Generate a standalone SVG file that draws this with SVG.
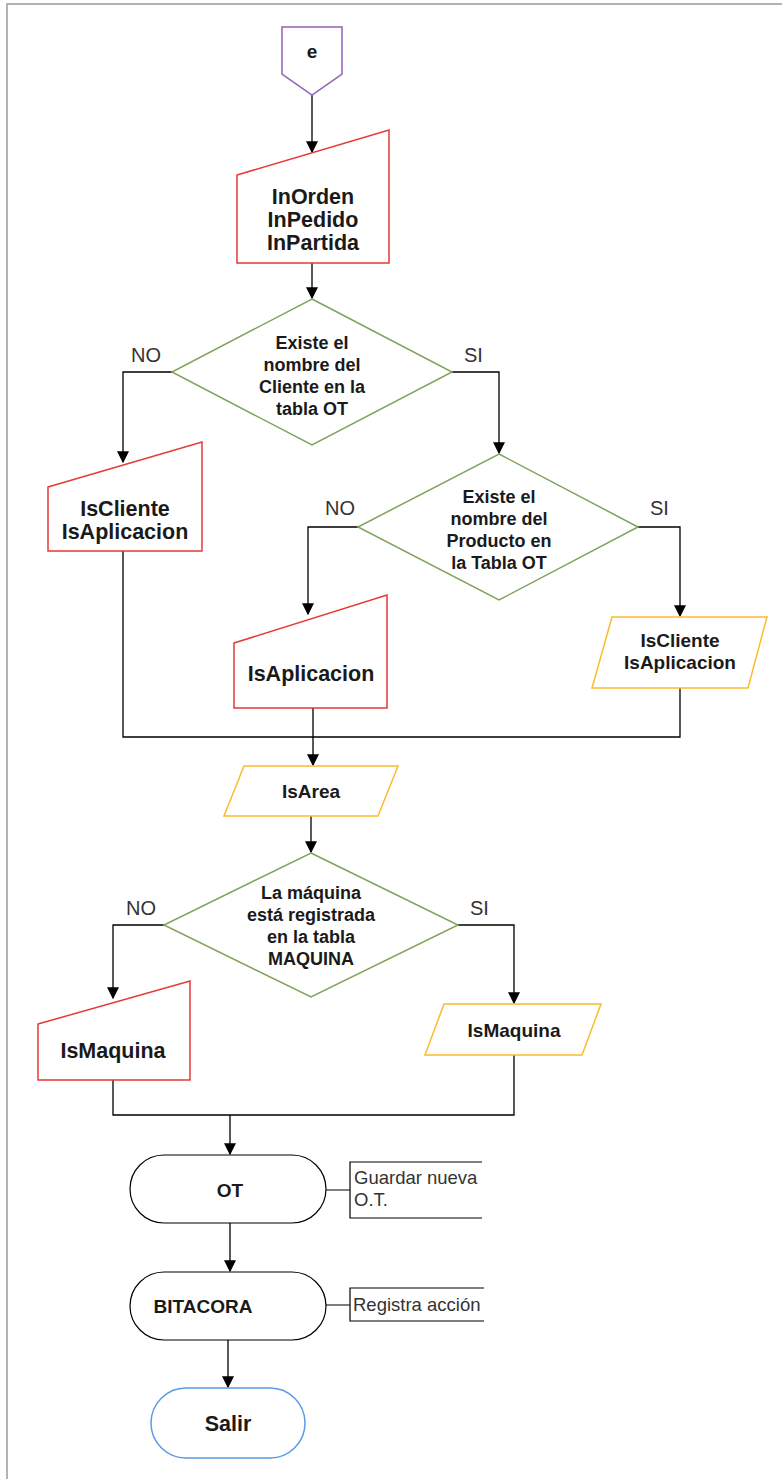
<svg xmlns="http://www.w3.org/2000/svg" width="782" height="1479" viewBox="0 0 782 1479">
  <style>
    .frame { stroke: #b3b3b3; stroke-width: 2; fill: none; }
    .edge { stroke: #000; stroke-width: 1.3; fill: none; }
    .manual { fill: #fff; stroke: #e53935; stroke-width: 1.5; }
    .data { fill: #fff; stroke: #fbbc2b; stroke-width: 1.5; }
    .decision { fill: #fff; stroke: #7fa35a; stroke-width: 1.5; }
    .term { fill: #fff; stroke: #000; stroke-width: 1.2; }
    .exit { fill: #fff; stroke: #5b9ae8; stroke-width: 1.5; }
    .page { fill: #fff; stroke: #9161b8; stroke-width: 1.5; }
    .note { fill: none; stroke: #000; stroke-width: 1.2; }
    text { font-family: "Liberation Sans", Arial, sans-serif; fill: #1a1a1a; }
    .big { font-size: 21.5px; font-weight: bold; text-anchor: middle; }
    .mid { font-size: 19px; font-weight: bold; text-anchor: middle; }
    .dec { font-size: 18px; font-weight: bold; text-anchor: middle; }
    .lbl { font-size: 20px; fill: #333; }
    .ann { font-size: 18.5px; fill: #333; }
  </style>
  <defs>
    <marker id="arrow" viewBox="0 0 10 10" refX="9" refY="5" markerWidth="12" markerHeight="12" markerUnits="userSpaceOnUse" orient="auto">
      <path d="M0,0 L10,5 L0,10 Z" fill="#000"/>
    </marker>
  </defs>

  <!-- page frame -->
  <path class="frame" d="M7,1479 V4 H782"/>

  <!-- connectors -->
  <g id="connectors">
    <path class="edge" d="M312,95 V152" marker-end="url(#arrow)"/>
    <path class="edge" d="M312,263 V298" marker-end="url(#arrow)"/>
    <path class="edge" d="M172,372 H123 V462" marker-end="url(#arrow)"/>
    <path class="edge" d="M452,372 H499 V453" marker-end="url(#arrow)"/>
    <path class="edge" d="M358,527 H308 V614" marker-end="url(#arrow)"/>
    <path class="edge" d="M638,527 H680 V616" marker-end="url(#arrow)"/>
    <path class="edge" d="M123,551 V737 H680 V688"/>
    <path class="edge" d="M313,708 V765" marker-end="url(#arrow)"/>
    <path class="edge" d="M311,816 V852" marker-end="url(#arrow)"/>
    <path class="edge" d="M164,925 H113 V998" marker-end="url(#arrow)"/>
    <path class="edge" d="M458,925 H514 V1003" marker-end="url(#arrow)"/>
    <path class="edge" d="M113,1080 V1115 H514 V1055"/>
    <path class="edge" d="M230,1115 V1154" marker-end="url(#arrow)"/>
    <path class="edge" d="M230,1223 V1271" marker-end="url(#arrow)"/>
    <path class="edge" d="M228,1340 V1387" marker-end="url(#arrow)"/>
  </g>

  <!-- off-page reference -->
  <g id="node-e">
    <path class="page" d="M282,27 H342 V74 L312,95 L282,74 Z"/>
    <text class="mid" x="312" y="58">e</text>
  </g>

  <!-- manual input: order data -->
  <g id="node-inorden">
    <path class="manual" d="M237,175 L389,130 V263 H237 Z"/>
    <text class="big" x="313" y="204">InOrden</text>
    <text class="big" x="313" y="227">InPedido</text>
    <text class="big" x="313" y="250">InPartida</text>
  </g>

  <!-- decision: client exists -->
  <g id="node-dec-cliente">
    <path class="decision" d="M312,299 L452,372 L312,445 L172,372 Z"/>
    <text class="dec" x="312" y="349">Existe el</text>
    <text class="dec" x="312" y="371">nombre del</text>
    <text class="dec" x="312" y="393">Cliente en la</text>
    <text class="dec" x="312" y="415">tabla OT</text>
    <text class="lbl" x="131" y="362">NO</text>
    <text class="lbl" x="464" y="362">SI</text>
  </g>

  <g id="node-iscliente-manual">
    <path class="manual" d="M48,487 L202,442 V551 H48 Z"/>
    <text class="big" x="125" y="516">IsCliente</text>
    <text class="big" x="125" y="539">IsAplicacion</text>
  </g>

  <!-- decision: product exists -->
  <g id="node-dec-producto">
    <path class="decision" d="M499,454 L638,527 L499,600 L358,527 Z"/>
    <text class="dec" x="499" y="503">Existe el</text>
    <text class="dec" x="499" y="525">nombre del</text>
    <text class="dec" x="499" y="547">Producto en</text>
    <text class="dec" x="499" y="569">la Tabla OT</text>
    <text class="lbl" x="325" y="515">NO</text>
    <text class="lbl" x="650" y="515">SI</text>
  </g>

  <g id="node-isaplicacion-manual">
    <path class="manual" d="M234,643 L387,595 V708 H234 Z"/>
    <text class="big" x="311" y="681">IsAplicacion</text>
  </g>

  <g id="node-iscliente-data">
    <path class="data" d="M612,617 H767 L748,688 H592 Z"/>
    <text class="mid" x="680" y="647">IsCliente</text>
    <text class="mid" x="680" y="669">IsAplicacion</text>
  </g>

  <g id="node-isarea">
    <path class="data" d="M244,766 H398 L378,816 H224 Z"/>
    <text class="mid" x="311" y="798">IsArea</text>
  </g>

  <!-- decision: machine registered -->
  <g id="node-dec-maquina">
    <path class="decision" d="M311,853 L458,925 L311,997 L164,925 Z"/>
    <text class="dec" x="311" y="899">La máquina</text>
    <text class="dec" x="311" y="921">está registrada</text>
    <text class="dec" x="311" y="943">en la tabla</text>
    <text class="dec" x="311" y="965">MAQUINA</text>
    <text class="lbl" x="126" y="915">NO</text>
    <text class="lbl" x="470" y="915">SI</text>
  </g>

  <g id="node-ismaquina-manual">
    <path class="manual" d="M38,1024 L190,981 V1080 H38 Z"/>
    <text class="big" x="113" y="1058">IsMaquina</text>
  </g>

  <g id="node-ismaquina-data">
    <path class="data" d="M444,1004 H601 L582,1055 H425 Z"/>
    <text class="mid" x="514" y="1037">IsMaquina</text>
  </g>

  <!-- save order -->
  <g id="node-ot">
    <rect class="term" x="130" y="1155" width="196" height="68" rx="34" ry="34"/>
    <text class="mid" x="230" y="1197">OT</text>
    <path class="note" d="M326,1190 H350 M482,1162 H350 V1218 H482"/>
    <text class="ann" x="354" y="1184">Guardar nueva</text>
    <text class="ann" x="354" y="1206">O.T.</text>
  </g>

  <!-- log entry -->
  <g id="node-bitacora">
    <rect class="term" x="130" y="1272" width="196" height="68" rx="34" ry="34"/>
    <text class="mid" x="203" y="1313">BITACORA</text>
    <path class="note" d="M326,1305 H350 M484,1288 H350 V1321 H484"/>
    <text class="ann" x="353" y="1311">Registra acción</text>
  </g>

  <g id="node-salir">
    <rect class="exit" x="151" y="1388" width="154" height="70" rx="35" ry="35"/>
    <text class="big" x="228" y="1431">Salir</text>
  </g>
</svg>
